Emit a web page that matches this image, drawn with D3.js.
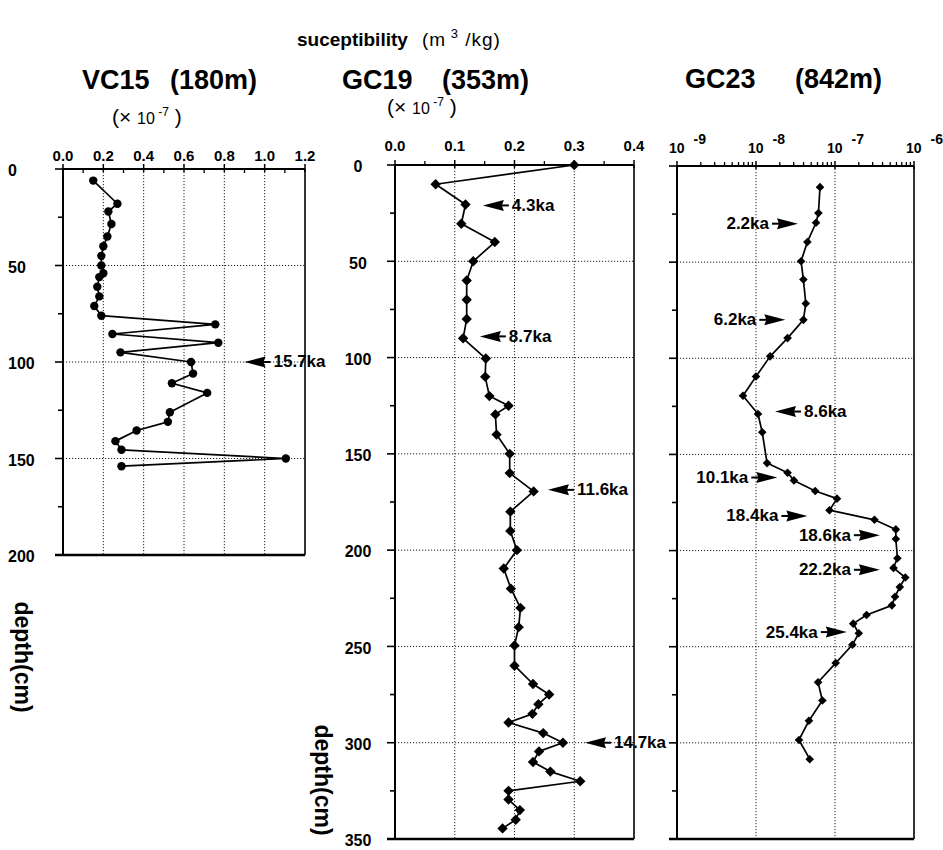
<!DOCTYPE html>
<html><head><meta charset="utf-8">
<script src="https://cdn.jsdelivr.net/npm/d3@7"></script>
<style>
body{margin:0;background:#fff}
svg{display:block}
text{font-family:"Liberation Sans",Arial,Helvetica,sans-serif;fill:#000}
</style>
</head><body>
<svg id="c" width="943" height="850"></svg>
<script>
// ---------------- DATA ----------------
// VC15 (180 m)  susceptibility x 10^-7 m3/kg
const vcDepth = [6, 18, 22, 28.5, 35, 40, 45, 50, 54, 56, 61, 66, 71, 76, 80.5, 85.5, 90, 95, 100, 106, 111, 116, 126, 131, 135.5, 141, 145.5, 150, 154];
const vcValue = [0.15, 0.27, 0.225, 0.24, 0.22, 0.20, 0.19, 0.19, 0.20, 0.18, 0.17, 0.18, 0.155, 0.19, 0.755, 0.245, 0.77, 0.285, 0.635, 0.645, 0.54, 0.715, 0.53, 0.52, 0.365, 0.26, 0.29, 1.105, 0.29];
const vcTicks = [0, 0.2, 0.4, 0.6, 0.8, 1.0, 1.2];
const vcDepthTicks = [0, 50, 100, 150, 200];
const vcNoteLabel = ["15.7ka"];
const vcNoteDepth = [100];
const vcNoteValue = [0.90];

// GC19 (353 m)  susceptibility x 10^-7 m3/kg
const gc19Depth = [0, 10, 20.5, 30.5, 40, 50, 60, 70, 80, 90, 100.5, 110, 120, 125, 129.5, 140, 150, 160, 169.5, 180, 190, 200, 209.5, 220, 230, 240, 249.5, 260, 269.5, 275, 280, 285, 289.5, 295, 300, 304.5, 310, 315, 320, 325, 329.5, 335, 340, 344.5];
const gc19Value = [0.30, 0.068, 0.118, 0.111, 0.167, 0.131, 0.12, 0.12, 0.12, 0.114, 0.152, 0.151, 0.158, 0.19, 0.168, 0.17, 0.192, 0.192, 0.232, 0.193, 0.193, 0.204, 0.182, 0.194, 0.21, 0.207, 0.2, 0.2, 0.231, 0.258, 0.24, 0.23, 0.19, 0.248, 0.281, 0.241, 0.231, 0.26, 0.31, 0.19, 0.19, 0.209, 0.202, 0.18];
const gc19Ticks = [0, 0.1, 0.2, 0.3, 0.4];
const gcDepthTicks = [0, 50, 100, 150, 200, 250, 300, 350];
const gc19NoteLabel = ["4.3ka", "8.7ka", "11.6ka", "14.7ka"];
const gc19NoteDepth = [21, 89, 168.7, 300];
const gc19NoteValue = [0.147, 0.142, 0.256, 0.318];

// GC23 (842 m)  susceptibility m3/kg (log scale)
const gc23Depth = [11, 24.5, 29.5, 39.5, 49.5, 59, 71.5, 80, 89.5, 99, 109.5, 119.5, 129, 138.5, 154.5, 159.5, 163.5, 169, 173, 179, 184, 189, 194, 204, 209, 214, 219, 224, 228.5, 233.5, 238, 243, 249, 258.5, 268.5, 278, 288.5, 298.5, 308.5];
const gc23Value = [6.46e-8, 6.17e-8, 5.75e-8, 4.47e-8, 3.72e-8, 3.98e-8, 4.27e-8, 3.98e-8, 2.51e-8, 1.51e-8, 1.0e-8, 6.84e-9, 1.06e-8, 1.20e-8, 1.38e-8, 2.51e-8, 3.02e-8, 5.62e-8, 1.06e-7, 8.51e-8, 3.16e-7, 5.89e-7, 5.89e-7, 6.17e-7, 5.50e-7, 7.76e-7, 6.61e-7, 5.75e-7, 5.25e-7, 2.51e-7, 1.70e-7, 2.0e-7, 1.66e-7, 1.02e-7, 6.10e-8, 6.92e-8, 4.68e-8, 3.50e-8, 4.79e-8];
const gc23Ticks = [1e-9, 1e-8, 1e-7, 1e-6];
const gc23TickExp = ["-9", "-8", "-7", "-6"];
const gc23NoteLabel = ["2.2ka", "6.2ka", "8.6ka", "10.1ka", "18.4ka", "18.6ka", "22.2ka", "25.4ka"];
const gc23NoteDepth = [30, 80, 127.7, 162, 182, 192, 210, 242.4];
const gc23NoteValue = [3.4e-8, 2.35e-8, 1.74e-8, 1.86e-8, 4.47e-8, 3.7e-7, 3.7e-7, 1.41e-7];
const gc23NoteDir = ["right", "right", "left", "right", "right", "right", "right", "right"];

// ---------------- DRAW ----------------
const svg = d3.select('#c');
const INK = '#000';

function panel(o) {
  const g = svg.append('g');
  const x = o.x, y = o.y;
  const [L, R] = x.range();
  const [T, B] = y.range();

  // grid
  g.selectAll('line.vg').data(o.grid).join('line')
    .attr('x1', d => x(d)).attr('x2', d => x(d)).attr('y1', T).attr('y2', B)
    .attr('stroke', '#222').attr('stroke-width', 1).attr('stroke-dasharray', '1.2,1.8');
  g.selectAll('line.hg').data(o.depthGrid).join('line')
    .attr('x1', L).attr('x2', R).attr('y1', d => y(d)).attr('y2', d => y(d))
    .attr('stroke', '#222').attr('stroke-width', 1).attr('stroke-dasharray', '1.2,1.8');

  // left axis ticks every 25 cm
  const dmax = y.domain()[1];
  const lt = d3.range(0, dmax + 1, 25);
  g.selectAll('line.lt').data(lt).join('line')
    .attr('x1', d => L - (d % 50 === 0 ? 8 : 5)).attr('x2', L)
    .attr('y1', d => y(d)).attr('y2', d => y(d))
    .attr('stroke', INK).attr('stroke-width', 1.6);

  // top axis minor & major ticks
  g.selectAll('line.mt').data(o.minor).join('line')
    .attr('x1', d => x(d)).attr('x2', d => x(d))
    .attr('y1', o.minorDown ? T : T - 4).attr('y2', o.minorDown ? T + 4 : T)
    .attr('stroke', INK).attr('stroke-width', 1.3);
  g.selectAll('line.Mt').data(o.ticks).join('line')
    .attr('x1', d => x(d)).attr('x2', d => x(d))
    .attr('y1', T - 5).attr('y2', T + 3)
    .attr('stroke', INK).attr('stroke-width', 1.5);

  // frame
  g.append('line').attr('x1', L).attr('x2', L).attr('y1', T).attr('y2', B).attr('stroke', INK).attr('stroke-width', 2);
  g.append('line').attr('x1', R).attr('x2', R).attr('y1', T).attr('y2', B).attr('stroke', INK).attr('stroke-width', 1.6);
  g.append('line').attr('x1', L).attr('x2', R).attr('y1', T).attr('y2', T).attr('stroke', INK).attr('stroke-width', 2);
  g.append('line').attr('x1', L - 8).attr('x2', R).attr('y1', B).attr('y2', B).attr('stroke', INK).attr('stroke-width', 2.4);

  // top tick labels
  if (o.tickLabel) {
    g.selectAll('text.tl').data(o.ticks).join('text')
      .attr('x', d => x(d)).attr('y', o.tickBase)
      .attr('text-anchor', 'middle').attr('font-weight', 'bold').attr('font-size', o.tickSize)
      .text(d => d3.format('.1f')(d));
  } else {
    const tt = g.selectAll('text.tl').data(o.ticks.map((d, i) => [d, o.exps[i]])).join('text')
      .attr('x', d => x(d[0]) - 8).attr('y', o.tickBase)
      .attr('font-weight', 'bold').attr('font-size', 14);
    tt.append('tspan').text('10');
    tt.append('tspan').attr('dx', 9).attr('dy', -9).attr('font-size', 14).text(d => d[1]);
  }

  // depth labels
  if (o.depthLabels) {
    g.selectAll('text.dl').data(o.depthLabels).join('text')
      .attr('x', o.depthLabelX).attr('y', d => y(d) + 3)
      .attr('text-anchor', o.depthAnchor).attr('dominant-baseline', 'middle')
      .attr('font-weight', 'bold').attr('font-size', 16)
      .text(d => d);
  }

  // data line + markers
  const pts = o.depth.map((d, i) => [x(o.value[i]), y(d)]);
  g.append('path').attr('d', d3.line()(pts))
    .attr('fill', 'none').attr('stroke', INK).attr('stroke-width', 1.7).attr('stroke-linejoin', 'round');
  if (o.marker === 'circle') {
    g.selectAll('circle.m').data(pts).join('circle')
      .attr('cx', d => d[0]).attr('cy', d => d[1]).attr('r', 4.2).attr('fill', INK);
  } else {
    const s = o.markerSize;
    g.selectAll('path.m').data(pts).join('path')
      .attr('d', d => `M${d[0]},${d[1] - s}L${d[0] + s},${d[1]}L${d[0]},${d[1] + s}L${d[0] - s},${d[1]}Z`)
      .attr('fill', INK);
  }

  // annotations
  o.noteLabel.forEach((lab, i) => {
    const tx = x(o.noteValue[i]), ty = y(o.noteDepth[i]);
    const dir = o.noteDir ? o.noteDir[i] : 'left';
    const sgn = dir === 'left' ? 1 : -1; // left-pointing: body extends to the right
    g.append('path')
      .attr('d', `M${tx},${ty}L${tx + sgn * 21},${ty - 5.5}L${tx + sgn * 19},${ty}L${tx + sgn * 21},${ty + 5.5}Z`)
      .attr('fill', INK);
    g.append('line').attr('x1', tx + sgn * 17).attr('x2', tx + sgn * 26)
      .attr('y1', ty).attr('y2', ty).attr('stroke', INK).attr('stroke-width', 2);
    g.append('text')
      .attr('x', tx + sgn * 29).attr('y', ty + 1).attr('dominant-baseline', 'middle')
      .attr('text-anchor', dir === 'left' ? 'start' : 'end')
      .attr('font-weight', 'bold').attr('font-size', 17)
      .text(lab);
  });
}

// VC15
panel({
  x: d3.scaleLinear().domain([0, 1.2]).range([63, 305]),
  y: d3.scaleLinear().domain([0, 200]).range([169, 555]),
  grid: vcTicks.slice(1, -1), depthGrid: [50, 100, 150],
  ticks: vcTicks, minor: d3.range(0.1, 1.2, 0.2), minorDown: true,
  tickLabel: true, tickBase: 161, tickSize: 15,
  depthLabels: vcDepthTicks, depthLabelX: 8, depthAnchor: 'start',
  depth: vcDepth, value: vcValue, marker: 'circle',
  noteLabel: vcNoteLabel, noteDepth: vcNoteDepth, noteValue: vcNoteValue
});

// GC19
panel({
  x: d3.scaleLinear().domain([0, 0.4]).range([395, 634]),
  y: d3.scaleLinear().domain([0, 350]).range([165, 839]),
  grid: gc19Ticks.slice(1, -1), depthGrid: [50, 100, 150, 200, 250, 300],
  ticks: gc19Ticks, minor: d3.range(0.05, 0.4, 0.1), minorDown: false,
  tickLabel: true, tickBase: 151, tickSize: 15,
  depthLabels: gcDepthTicks, depthLabelX: 358, depthAnchor: 'middle',
  depth: gc19Depth, value: gc19Value, marker: 'diamond', markerSize: 5.2,
  noteLabel: gc19NoteLabel, noteDepth: gc19NoteDepth, noteValue: gc19NoteValue
});

// GC23
const logMinor = [];
[1e-9, 1e-8, 1e-7].forEach(b => { for (let k = 2; k <= 9; k++) logMinor.push(b * k); });
panel({
  x: d3.scaleLog().domain([1e-9, 1e-6]).range([677, 914]),
  y: d3.scaleLinear().domain([0, 350]).range([166, 839]),
  grid: [1e-8, 1e-7], depthGrid: [50, 100, 150, 200, 250, 300],
  ticks: gc23Ticks, exps: gc23TickExp, minor: logMinor, minorDown: false,
  tickLabel: false, tickBase: 153,
  depthLabels: null,
  depth: gc23Depth, value: gc23Value, marker: 'diamond', markerSize: 4.3,
  noteLabel: gc23NoteLabel, noteDepth: gc23NoteDepth, noteValue: gc23NoteValue, noteDir: gc23NoteDir
});

// ---------------- TITLES ----------------
svg.append('text').attr('x', 297).attr('y', 46).attr('font-weight', 'bold').attr('font-size', 19)
  .text('suceptibility');
const unit = svg.append('text').attr('x', 422).attr('y', 46).attr('font-size', 19).attr('letter-spacing', 1);
unit.append('tspan').text('(m');
unit.append('tspan').attr('dy', -8).attr('font-size', 13).text(' 3');
unit.append('tspan').attr('dy', 8).text(' /kg)');

const heads = [["VC15", 82, "(180m)", 170, 89], ["GC19", 342, "(353m)", 442, 89], ["GC23", 685, "(842m)", 795, 88]];
heads.forEach(h => {
  svg.append('text').attr('x', h[1]).attr('y', h[4]).attr('font-weight', 'bold').attr('font-size', 27).text(h[0]);
  svg.append('text').attr('x', h[3]).attr('y', h[4]).attr('font-weight', 'bold').attr('font-size', 27).text(h[2]);
});

[[112, 124], [387, 114]].forEach(p => {
  const t = svg.append('text').attr('x', p[0]).attr('y', p[1]).attr('font-size', 21);
  t.append('tspan').text('(× ');
  t.append('tspan').attr('font-size', 16).text('10');
  t.append('tspan').attr('dy', -8).attr('font-size', 12).text(' -7');
  t.append('tspan').attr('dy', 8).text(' )');
});

[[21, 657], [321, 780]].forEach(p => {
  svg.append('text').attr('transform', `translate(${p[0]},${p[1]}) rotate(90)`)
    .attr('text-anchor', 'middle').attr('dominant-baseline', 'middle')
    .attr('font-weight', 'bold').attr('font-size', 23)
    .text('depth(cm)');
});
</script>
</body></html>
